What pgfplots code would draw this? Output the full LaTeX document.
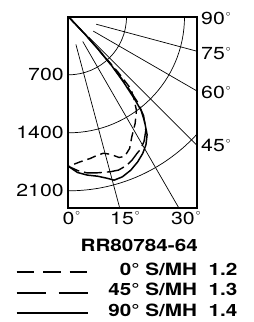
\documentclass[border=0pt]{standalone}
\usepackage{pgfplots}
\usepackage{pgfplotstable}
\pgfplotsset{compat=1.18}
\usepackage{fontspec}
\setmainfont{TeX Gyre Heros}[FakeStretch=1.22]
\DeclareRobustCommand\dg{\rlap{\hspace{1bp}\smash{\raisebox{8.3bp}{\fontsize{9}{9}\selectfont$\circ$}}}}

% candela distribution: angle from nadir (deg), intensity (cd)
\pgfplotstableread{
ang cd
45.0 0
43.5 300
42.5 560
41.8 900
40.9 1150
38.7 1262
36.0 1395
32.0 1518
27.8 1638
24.9 1752
22.0 1815
19.8 1805
17.0 1735
14.4 1700
11.8 1706
8.7 1730
4.7 1755
0.0 1805
}\planezero

\pgfplotstableread{
ang cd
45.0 0
43.5 300
42.5 520
41.5 800
40.4 1060
39.0 1330
37.2 1500
34.2 1660
31.2 1760
28.5 1820
26.6 1845
24.0 1890
21.5 1925
18.1 1946
15.1 1937
10.5 1915
6.7 1896
3.5 1860
0.0 1805
}\planefortyfive

\pgfplotstableread{
ang cd
45.0 0
43.5 300
42.5 520
41.5 780
40.2 1020
38.8 1270
37.8 1430
36.0 1562
33.7 1710
31.2 1805
28.5 1877
25.5 1940
22.1 1998
18.6 2038
15.6 2047
13.6 2006
10.3 1955
6.8 1924
3.3 1882
0.0 1805
}\planeninety

\begin{document}
\begin{tikzpicture}
\begin{axis}[
  name=ax,
  width=129bp, height=191.5bp, scale only axis,
  xmin=0, xmax=1557, ymin=-2311, ymax=0,
  axis line style={line width=2bp},
  xtick={0,646,1382},
  xticklabels={0\dg,15\dg,30\dg},
  ytick={-2100,-1400,-700},
  yticklabels={2100,1400,700},
  major tick length=0pt,
  tick label style={font=\fontsize{17.5}{18}\selectfont},
  xticklabel style={anchor=north, inner sep=0pt, yshift=-3.4bp},
  yticklabel style={anchor=east, inner sep=0pt, xshift=-4.6bp},
  clip=true,
]
% grid arcs and rays
\draw[line width=0.7bp] (axis cs:0,0) circle[radius=700];
\draw[line width=0.7bp] (axis cs:0,0) circle[radius=1400];
\draw[line width=0.7bp] (axis cs:0,0) circle[radius=2100];
\pgfplotsinvokeforeach{15,30,45,60,75}{
  \draw[line width=0.7bp] (axis cs:{345*sin(#1)},{-345*cos(#1)}) -- (axis cs:{3200*sin(#1)},{-3200*cos(#1)});
}
\addplot[no marks, line width=1.4bp, dash pattern=on 9bp off 5bp]
  table[x expr={\thisrow{cd}*sin(\thisrow{ang})}, y expr={-\thisrow{cd}*cos(\thisrow{ang})}] {\planezero};
\addplot[no marks, line width=1.4bp, dash pattern=on 18bp off 5bp]
  table[x expr={\thisrow{cd}*sin(\thisrow{ang})}, y expr={-\thisrow{cd}*cos(\thisrow{ang})}] {\planefortyfive};
\addplot[no marks, line width=1.5bp]
  table[x expr={\thisrow{cd}*sin(\thisrow{ang})}, y expr={-\thisrow{cd}*cos(\thisrow{ang})}] {\planeninety};
\end{axis}
\begin{scope}[x=1bp, y=1bp, shift={(ax.south west)}, shift={(-68.5,208.3)}]
\useasboundingbox (0,0) rectangle (254,-322);
% right-hand angle labels
\begin{scope}[every node/.style={anchor=base west, inner sep=0pt, font=\fontsize{17.5}{18}\selectfont}]
\node at (201,-24.3) {90\dg};
\node at (201,-59.3) {75\dg};
\node at (201,-98.3) {60\dg};
\node at (201,-151.7) {45\dg};
\end{scope}
% legend
\node[anchor=base, inner sep=0pt, font=\bfseries\fontsize{17}{18}\selectfont] at (139.2,-251.5) {RR80784-64};
\begin{scope}[every node/.style={anchor=base east, inner sep=0pt, font=\bfseries\fontsize{17}{18}\selectfont}]
\node at (237.5,-275.3) {0° S/MH\ \ 1.2};
\node at (237.5,-295.5) {45° S/MH\ \ 1.3};
\node at (237.5,-316.2) {90° S/MH\ \ 1.4};
\end{scope}
\draw[line width=1.8bp, dash pattern=on 17.5bp off 9bp] (16.7,-272.3) -- (88.3,-272.3);
\draw[line width=1.8bp, dash pattern=on 29.5bp off 12.5bp] (16.7,-293.3) -- (88.3,-293.3);
\draw[line width=1.8bp] (16.7,-313.3) -- (88.3,-313.3);
\end{scope}
\end{tikzpicture}
\end{document}
